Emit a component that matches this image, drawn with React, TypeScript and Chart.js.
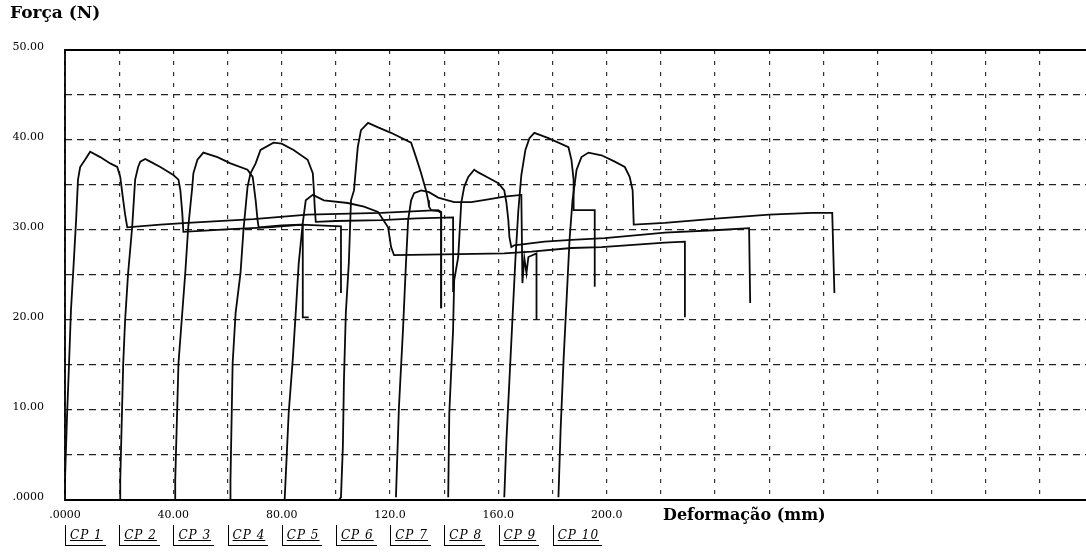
import React, { useEffect, useRef } from 'react';
import { Chart, registerables } from 'chart.js';

Chart.register(...registerables);

// ---------- data ----------
const seriesNames = ['CP 1', 'CP 2', 'CP 3', 'CP 4', 'CP 5', 'CP 6', 'CP 7', 'CP 8', 'CP 9', 'CP 10'];

const cp1X = [0, 0, 0.7, 1.5, 2.2, 3.0, 4.1, 4.8, 5.6, 7.4, 9.3, 13.0, 16.7, 19.3, 20.4, 21.5, 22.2, 23.0, 35.2, 45.2, 69.6, 89.6, 116.7, 137.8, 138.9, 138.9];
const cp1Y = [0, 2.2, 8.9, 15.2, 21.1, 25.2, 31.1, 35.6, 37.0, 37.8, 38.7, 38.1, 37.4, 37.0, 35.9, 33.3, 31.7, 30.3, 30.6, 30.8, 31.2, 31.7, 31.9, 32.2, 32.0, 21.3];

const cp2X = [20.4, 20.4, 21.5, 22.2, 23.3, 24.8, 25.9, 27.0, 27.8, 29.6, 31.5, 35.2, 40.0, 41.9, 42.6, 43.3, 43.7, 50.0, 61.1, 75.0, 87.8, 87.8, 90.0];
const cp2Y = [0, 2.2, 15.2, 20.0, 25.2, 30.3, 35.6, 37.0, 37.6, 37.9, 37.6, 37.0, 36.1, 35.6, 34.4, 31.9, 29.8, 29.9, 30.1, 30.3, 30.6, 20.3, 20.3];

const cp3X = [40.7, 40.7, 41.9, 43.3, 44.4, 45.5, 47.0, 47.4, 48.9, 51.1, 56.3, 61.1, 67.4, 69.3, 69.6, 70.4, 71.1, 71.5, 80.0, 87.0, 101.9, 101.9];
const cp3Y = [0, 2.2, 15.2, 20.8, 25.2, 30.3, 34.8, 36.3, 37.8, 38.6, 38.1, 37.4, 36.7, 35.9, 35.2, 33.3, 31.1, 30.3, 30.5, 30.6, 30.4, 23.0];

const cp4X = [61.1, 61.1, 61.9, 63.0, 64.8, 65.9, 67.4, 68.5, 70.4, 72.2, 77.0, 80.0, 84.4, 89.6, 91.5, 91.9, 92.2, 92.6, 100.0, 116.7, 130.0, 143.3, 143.3];
const cp4Y = [0, 2.2, 15.2, 20.8, 25.2, 30.0, 34.8, 36.3, 37.4, 38.9, 39.7, 39.6, 38.9, 37.8, 36.3, 34.4, 32.6, 30.9, 31.0, 31.1, 31.3, 31.4, 23.1];

const cp5X = [81.1, 82.6, 84.1, 85.2, 86.3, 87.8, 88.9, 91.5, 95.6, 104.4, 110.4, 115.6, 119.3, 120.4, 121.5, 140.0, 162.2, 172.2, 187.0, 198.1, 221.5, 228.9, 228.9];
const cp5Y = [0, 9.7, 15.6, 20.8, 26.3, 30.8, 33.3, 33.9, 33.3, 33.0, 32.6, 32.0, 30.3, 28.1, 27.2, 27.3, 27.4, 27.6, 28.0, 28.1, 28.6, 28.7, 20.3];

const cp6X = [101.1, 101.9, 102.6, 103.0, 103.7, 104.8, 105.6, 106.7, 108.1, 109.3, 111.9, 115.6, 120.4, 127.8, 129.6, 131.5, 133.3, 134.1, 134.4, 135.2, 137.8, 138.9, 138.9];
const cp6Y = [0, 0.3, 5.9, 13.3, 20.8, 26.3, 33.3, 34.4, 39.2, 41.1, 41.9, 41.4, 40.8, 39.7, 38.1, 36.3, 34.4, 33.3, 32.6, 32.2, 32.1, 31.9, 21.3];

const cp7X = [122.2, 123.3, 124.8, 125.9, 126.7, 127.8, 128.9, 131.5, 134.4, 137.8, 143.7, 150.0, 156.3, 162.2, 168.5, 168.9, 169.6, 170.4, 171.1, 174.1, 174.1];
const cp7Y = [0.3, 10.3, 18.9, 26.3, 31.1, 33.3, 34.1, 34.4, 34.2, 33.6, 33.1, 33.1, 33.4, 33.7, 33.9, 24.1, 26.9, 25.2, 27.0, 27.4, 20.0];

const cp8X = [141.5, 141.9, 143.3, 143.7, 145.2, 146.3, 147.4, 148.9, 151.1, 152.6, 156.3, 160.0, 162.2, 163.0, 163.7, 164.1, 164.8, 165.9, 177.0, 187.0, 199.3, 221.5, 241.5, 252.6, 253.0];
const cp8Y = [0.3, 9.7, 18.9, 24.4, 27.0, 33.0, 34.8, 35.9, 36.7, 36.4, 35.8, 35.2, 34.4, 33.0, 31.1, 29.2, 28.1, 28.3, 28.7, 28.9, 29.1, 29.7, 30.0, 30.2, 21.9];

const cp9X = [162.2, 163.0, 164.1, 165.2, 166.3, 167.4, 168.5, 170.0, 171.5, 173.3, 178.5, 185.9, 187.0, 187.8, 187.8, 195.6, 195.6];
const cp9Y = [0.3, 6.7, 13.3, 20.0, 26.7, 32.2, 36.1, 38.9, 40.2, 40.8, 40.2, 39.2, 37.8, 35.6, 32.2, 32.2, 23.7];

const cp10X = [182.2, 183.0, 184.1, 185.2, 186.3, 187.4, 188.9, 190.7, 193.3, 198.1, 203.0, 206.7, 208.5, 209.6, 210.0, 221.5, 241.5, 260.0, 275.9, 283.3, 284.1];
const cp10Y = [0.3, 7.8, 15.6, 22.2, 28.9, 33.3, 36.7, 38.1, 38.6, 38.3, 37.6, 37.0, 35.9, 34.4, 30.6, 30.8, 31.3, 31.7, 31.9, 31.9, 23.0];

const curvesX = [cp1X, cp2X, cp3X, cp4X, cp5X, cp6X, cp7X, cp8X, cp9X, cp10X];
const curvesY = [cp1Y, cp2Y, cp3Y, cp4Y, cp5Y, cp6Y, cp7Y, cp8Y, cp9Y, cp10Y];

const xTickValues = [0, 20, 40, 60, 80, 100, 120, 140, 160, 180, 200, 220, 240, 260, 280, 300, 320, 340, 360];
const xLabelValues = [0, 40, 80, 120, 160, 200];
const xLabelTexts = ['.0000', '40.00', '80.00', '120.0', '160.0', '200.0'];
const yLabelValues = [0, 10, 20, 30, 40, 50];
const yLabelTexts = ['.0000', '10.00', '20.00', '30.00', '40.00', '50.00'];

const yAxisTitle = 'Força (N)';
const xAxisTitle = 'Deformação (mm)';

const framePlugin = {
  id: 'frame',
  beforeDatasetsDraw(chart: any) {
    const { ctx, chartArea } = chart;
    const { left, top, right, bottom } = chartArea;
    ctx.save();
    ctx.strokeStyle = '#000';
    ctx.lineWidth = 1.8;
    ctx.beginPath();
    ctx.moveTo(right, top);
    ctx.lineTo(left, top);
    ctx.lineTo(left, bottom);
    ctx.lineTo(right, bottom);
    ctx.stroke();
    ctx.restore();
  },
};

export default function App() {
  const canvasRef = useRef<HTMLCanvasElement | null>(null);

  useEffect(() => {
    if (!canvasRef.current) return;
    const tickFont = { family: '"DejaVu Serif"', size: 11 };
    const datasets = curvesX.map((xs, i) => ({
      label: seriesNames[i],
      data: xs.map((x, j) => ({ x, y: curvesY[i][j] })),
      borderColor: '#0a0a0a',
      borderWidth: 1.8,
      pointRadius: 0,
      tension: 0,
      fill: false,
    }));
    const chart = new Chart(canvasRef.current, {
      type: 'line',
      data: { datasets },
      options: {
        animation: false,
        responsive: false,
        layout: { padding: { top: 50, left: 0, right: 0, bottom: 0 } },
        plugins: {
          legend: { display: false },
          tooltip: { enabled: false },
          title: { display: false },
        },
        scales: {
          x: {
            type: 'linear',
            min: 0,
            max: 377,
            afterBuildTicks: (s: any) => {
              s.ticks = xTickValues.map((v) => ({ value: v }));
            },
            afterFit: (s: any) => {
              s.height = 52;
            },
            grid: { color: '#333', lineWidth: 1.2, drawTicks: false },
            border: { display: false, dash: [4, 7] },
            ticks: {
              autoSkip: false,
              maxRotation: 0,
              padding: 9,
              font: tickFont,
              color: '#000',
              callback: (v: any) => {
                const k = xLabelValues.indexOf(Number(v));
                return k >= 0 ? xLabelTexts[k] : '';
              },
            },
          },
          y: {
            type: 'linear',
            min: 0,
            max: 50,
            afterFit: (s: any) => {
              s.width = 65;
            },
            grid: { color: '#222', lineWidth: 1.3, drawTicks: false },
            border: { display: false, dash: [7, 5] },
            ticks: {
              stepSize: 5,
              autoSkip: false,
              padding: 21,
              labelOffset: -3,
              font: tickFont,
              color: '#000',
              callback: (v: any) => {
                const k = yLabelValues.indexOf(Number(v));
                return k >= 0 ? yLabelTexts[k] : '';
              },
            },
          },
        },
      },
      plugins: [framePlugin],
    } as any);
    return () => chart.destroy();
  }, []);

  return (
    <div style={{ position: 'fixed', left: 0, top: 0, width: 1086, height: 552, background: '#fff', overflow: 'hidden' }}>
      <canvas ref={canvasRef} width={1086} height={552} style={{ display: 'block' }} />
      <div style={{ position: 'absolute', left: 10, top: 2, font: 'bold 17px "DejaVu Serif"', color: '#000', whiteSpace: 'nowrap' }}>
        {yAxisTitle}
      </div>
      <div style={{ position: 'absolute', left: 663, top: 505, font: 'bold 16px "DejaVu Serif"', color: '#000', whiteSpace: 'nowrap' }}>
        {xAxisTitle}
      </div>
      <div style={{ position: 'absolute', left: 65, top: 525, display: 'flex' }}>
        {seriesNames.map((n) => (
          <div key={n} style={{ width: 54.2, flex: '0 0 auto' }}>
            <div
              style={{
                display: 'inline-block',
                height: 21,
                borderLeft: '1px solid #000',
                borderBottom: '1px solid #000',
                padding: '0 3px 0 4px',
                boxSizing: 'border-box',
              }}
            >
              <span
                style={{
                  font: 'italic 12px "DejaVu Serif"',
                  letterSpacing: 1,
                  textDecoration: 'underline',
                  lineHeight: '17px',
                  display: 'inline-block',
                  paddingTop: 2,
                  color: '#000',
                  whiteSpace: 'nowrap',
                }}
              >
                {n}
              </span>
            </div>
          </div>
        ))}
      </div>
    </div>
  );
}
